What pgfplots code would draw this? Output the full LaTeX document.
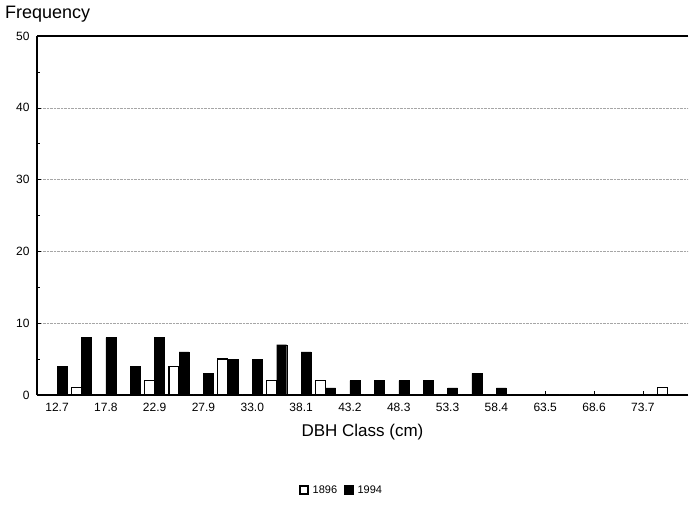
\documentclass[border=0pt]{standalone}
\usepackage{pgfplots}
\pgfplotsset{compat=1.18}
\usepackage{fontspec}
\setmainfont{Liberation Sans}

% DBH class index k corresponds to 12.7 + 2.54k cm
\begin{document}
\begin{tikzpicture}
\begin{axis}[
  scale only axis,
  width=651pt, height=359pt,
  ybar=0pt, bar width=10pt,
  xmin=-0.82, xmax=25.85,
  ymin=0, ymax=50,
  axis x line=bottom, axis y line=left,
  axis line style={-, line width=1.1pt},
  xtick={0,2,...,24},
  xticklabels={12.7,17.8,22.9,27.9,33.0,38.1,43.2,48.3,53.3,58.4,63.5,68.6,73.7},
  ytick={0,10,...,50},
  minor ytick={5,15,...,45},
  tick align=inside,
  major tick length=4pt, minor tick length=3pt,
  tick style={black, line width=0.5pt},
  ymajorgrids,
  major grid style={densely dotted, gray!70, line width=0.6pt},
  tick label style={font=\fontsize{12}{14}\selectfont},
  xticklabel style={yshift=-5pt},
  yticklabel style={xshift=-4pt},
  /pgf/number format/assume math mode=true,
  xlabel={DBH Class (cm)},
  xlabel style={font=\fontsize{17}{19}\selectfont, at={(0.5,-0.072)}, anchor=north},
  legend style={draw=none, at={(0.468,-0.265)}, anchor=center,
    legend columns=2, font=\fontsize{11}{13}\selectfont,
    /tikz/every even column/.append style={column sep=5pt},
    /tikz/every odd column/.append style={column sep=2pt}},
  legend image code/.code={\draw[#1, line width=1.4pt] (0pt,-4pt) rectangle (8pt,4pt);},
  clip=false,
]
\addplot[draw=black, line width=1.2pt, fill=white] coordinates {
  (0,0) (1,1) (2,0) (3,0) (4,2) (5,4) (6,0) (7,5) (8,0) (9,2)
  (10,0) (11,2) (12,0) (13,0) (14,0) (15,0) (16,0) (17,0) (18,0) (19,0)
  (20,0) (21,0) (22,0) (23,0) (24,0) (25,1)};
\addplot[draw=black, fill=black] coordinates {
  (0,4) (1,8) (2,8) (3,4) (4,8) (5,6) (6,3) (7,5) (8,5) (9,7)
  (10,6) (11,1) (12,2) (13,2) (14,2) (15,2) (16,1) (17,3) (18,1) (19,0)
  (20,0) (21,0) (22,0) (23,0) (24,0) (25,0)};
\legend{1896,1994}
\draw[line width=1.1pt] (rel axis cs:0,1) -- (rel axis cs:1,1);
\node[anchor=south west, font=\fontsize{18}{20}\selectfont, inner sep=0pt]
  at ([xshift=-32pt, yshift=14pt]rel axis cs:0,1) {Frequency};
\end{axis}
\path[use as bounding box] (-37pt,-113pt) rectangle (656pt,395pt);
\end{tikzpicture}
\end{document}
